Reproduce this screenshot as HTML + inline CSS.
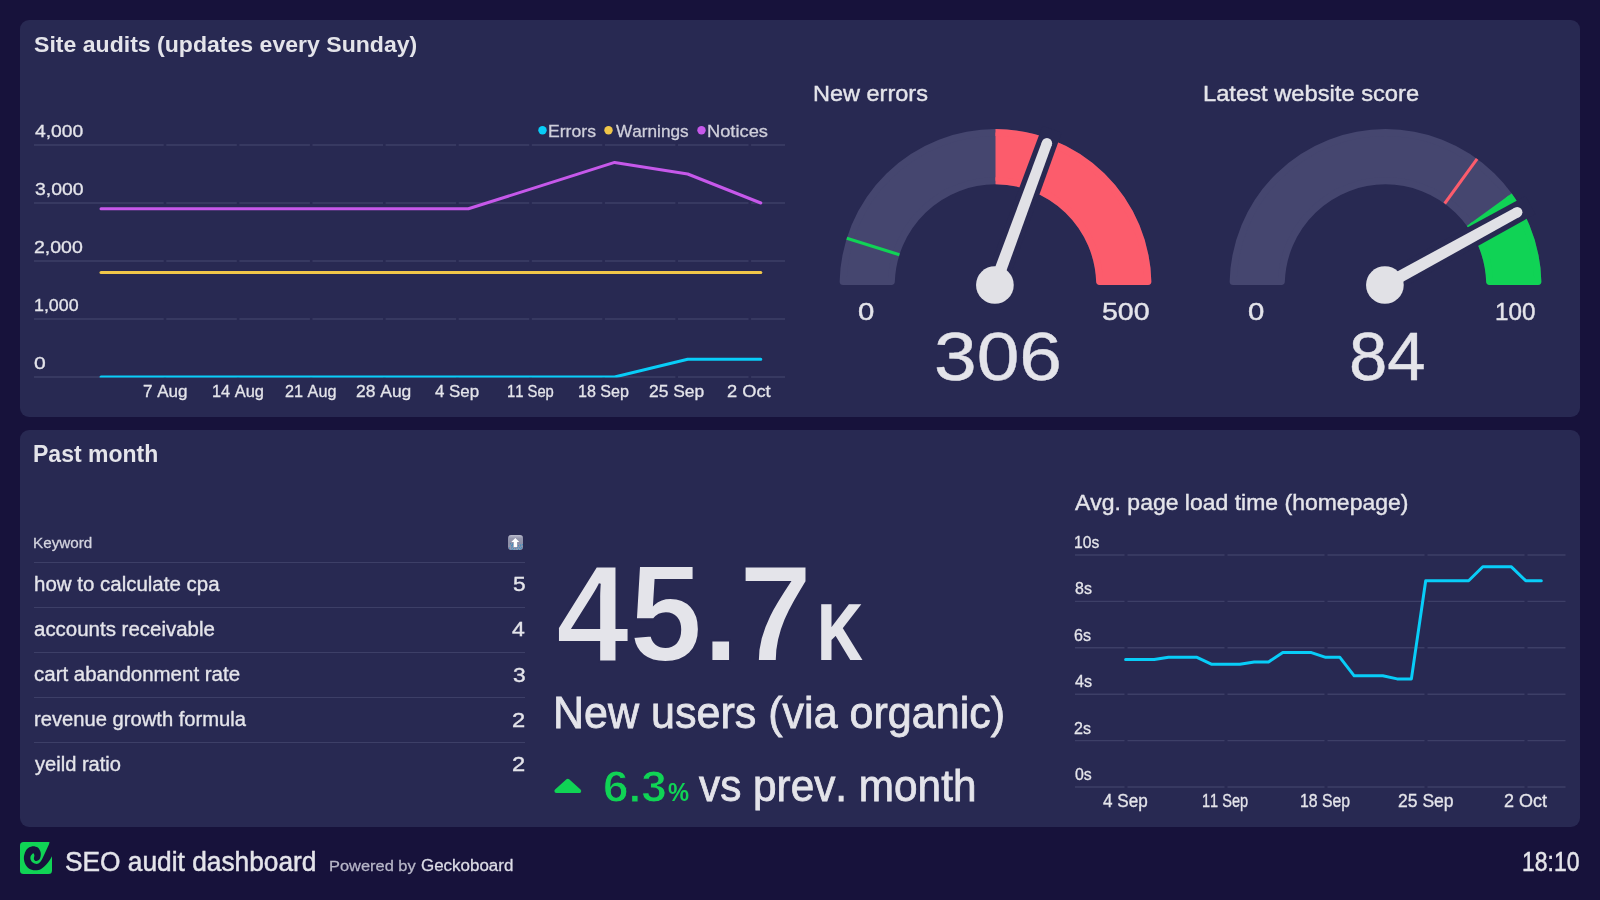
<!DOCTYPE html>
<html><head><meta charset="utf-8"><title>SEO audit dashboard</title>
<style>
html,body{margin:0;padding:0}
body{width:1600px;height:900px;background:#17123b;overflow:hidden;position:relative;font-family:"Liberation Sans",sans-serif}
.panel{position:absolute;left:20px;width:1560px;height:396px;border-radius:9px;background:#282952}
.t{position:absolute;white-space:nowrap;line-height:1;transform-origin:0 0;font-kerning:none}
.hr{position:absolute;left:34px;width:491px;height:1.4px;background:#3d3f67}
svg{position:absolute;left:0;top:0}
#txt{position:absolute;left:0;top:0;width:1600px;height:900px;will-change:transform}
.ico{position:absolute;left:508px;top:534.8px;width:15.2px;height:15.2px;border-radius:3.2px;background:linear-gradient(#bcbdce 0%,#9597ae 22%,#8d8fa8 55%,#9899b0 100%);overflow:hidden}
</style></head><body>
<div class="panel" style="top:20px;height:397px"></div>
<div class="panel" style="top:430px;height:396.5px"></div>
<svg width="1600" height="900" viewBox="0 0 1600 900">
<path d="M34.0 145H163.7M166.3 145H236.8M239.4 145H309.9M312.5 145H383.0M385.6 145H456.1M458.7 145H529.2M531.8 145H602.3M604.9 145H675.4M678.0 145H748.5M751.1 145H785.0M34.0 203H163.7M166.3 203H236.8M239.4 203H309.9M312.5 203H383.0M385.6 203H456.1M458.7 203H529.2M531.8 203H602.3M604.9 203H675.4M678.0 203H748.5M751.1 203H785.0M34.0 261H163.7M166.3 261H236.8M239.4 261H309.9M312.5 261H383.0M385.6 261H456.1M458.7 261H529.2M531.8 261H602.3M604.9 261H675.4M678.0 261H748.5M751.1 261H785.0M34.0 319H163.7M166.3 319H236.8M239.4 319H309.9M312.5 319H383.0M385.6 319H456.1M458.7 319H529.2M531.8 319H602.3M604.9 319H675.4M678.0 319H748.5M751.1 319H785.0M34.0 377H163.7M166.3 377H236.8M239.4 377H309.9M312.5 377H383.0M385.6 377H456.1M458.7 377H529.2M531.8 377H602.3M604.9 377H675.4M678.0 377H748.5M751.1 377H785.0" stroke="#3d3f67" stroke-width="1.4" fill="none"/>
<clipPath id="c1"><rect x="90" y="140" width="700" height="237.6"/></clipPath>
<polyline points="101.0,377.0 176.0,377.0 249.1,377.0 322.2,377.0 395.3,377.0 468.4,377.0 541.5,377.0 614.6,377.0 687.7,359.3 760.8,359.3" fill="none" stroke="#08cdf8" stroke-width="3" stroke-linejoin="round" stroke-linecap="round" clip-path="url(#c1)"/>
<polyline points="101.0,272.6 176.0,272.6 249.1,272.6 322.2,272.6 395.3,272.6 468.4,272.6 541.5,272.6 614.6,272.6 687.7,272.6 760.8,272.6" fill="none" stroke="#f0c649" stroke-width="3" stroke-linejoin="round" stroke-linecap="round" />
<polyline points="101.0,208.8 176.0,208.8 249.1,208.8 322.2,208.8 395.3,208.8 468.4,208.8 541.5,185.6 614.6,162.4 687.7,174.0 760.8,203.0" fill="none" stroke="#c658ea" stroke-width="3" stroke-linejoin="round" stroke-linecap="round" />
<circle cx="542.5" cy="130.3" r="4.2" fill="#08cdf8"/>
<circle cx="608.5" cy="130.3" r="4.2" fill="#f0c649"/>
<circle cx="701.5" cy="130.3" r="4.2" fill="#c658ea"/>
<path d="M843.14 281.5A152.4 152.4 0 0 1 1147.86 281.5L1099.64 281.5A104.2 104.2 0 0 0 891.36 281.5Z" fill="#45466f" stroke="#45466f" stroke-width="7.0" stroke-linejoin="round"/><clipPath id="z1"><path d="M995.5 285L995.5 -15.0L1207.6 72.9L1295.5 285.0V295H995.5Z"/></clipPath><path d="M843.14 281.5A152.4 152.4 0 0 1 1147.86 281.5L1099.64 281.5A104.2 104.2 0 0 0 891.36 281.5Z" fill="#fc5c6c" stroke="#fc5c6c" stroke-width="7.0" stroke-linejoin="round" clip-path="url(#z1)"/><line x1="899.4" y1="254.8" x2="846.8" y2="238.2" stroke="#10d355" stroke-width="3"/><path d="M1005.41 288.86L1061.69 132.69L1042.54 125.65L984.39 281.14Z" fill="#282952"/><path d="M1000.53 287.07L1051.82 145.04L1042.06 141.46L989.27 282.93Z" fill="#e1e1e6"/><circle cx="1046.94" cy="143.25" r="5.2" fill="#e1e1e6"/><circle cx="994.9" cy="285" r="18.85" fill="#e1e1e6"/>
<path d="M1233.14 281.5A152.4 152.4 0 0 1 1537.86 281.5L1489.64 281.5A104.2 104.2 0 0 0 1281.36 281.5Z" fill="#45466f" stroke="#45466f" stroke-width="7.0" stroke-linejoin="round"/><clipPath id="z2"><path d="M1385.5 285L1628.2 108.7L1670.8 192.3L1685.5 285.0V295H1385.5Z"/></clipPath><path d="M1233.14 281.5A152.4 152.4 0 0 1 1537.86 281.5L1489.64 281.5A104.2 104.2 0 0 0 1281.36 281.5Z" fill="#10d355" stroke="#10d355" stroke-width="7.0" stroke-linejoin="round" clip-path="url(#z2)"/><line x1="1444.7" y1="203.5" x2="1477.1" y2="158.9" stroke="#fc5c6c" stroke-width="3"/><path d="M1390.30 294.81L1535.28 213.97L1525.45 196.09L1379.50 275.19Z" fill="#282952"/><path d="M1387.79 290.26L1519.73 216.81L1514.72 207.70L1382.01 279.74Z" fill="#e1e1e6"/><circle cx="1517.22" cy="212.26" r="5.2" fill="#e1e1e6"/><circle cx="1384.9" cy="285" r="18.85" fill="#e1e1e6"/>
<path d="M1075.0 555H1124.5M1127.5 555H1224.5M1227.5 555H1324.5M1327.5 555H1424.5M1427.5 555H1524.5M1527.5 555H1565.5M1075.0 601.4H1124.5M1127.5 601.4H1224.5M1227.5 601.4H1324.5M1327.5 601.4H1424.5M1427.5 601.4H1524.5M1527.5 601.4H1565.5M1075.0 647.8H1124.5M1127.5 647.8H1224.5M1227.5 647.8H1324.5M1327.5 647.8H1424.5M1427.5 647.8H1524.5M1527.5 647.8H1565.5M1075.0 694.2H1124.5M1127.5 694.2H1224.5M1227.5 694.2H1324.5M1327.5 694.2H1424.5M1427.5 694.2H1524.5M1527.5 694.2H1565.5M1075.0 740.6H1124.5M1127.5 740.6H1224.5M1227.5 740.6H1324.5M1327.5 740.6H1424.5M1427.5 740.6H1524.5M1527.5 740.6H1565.5M1075.0 787H1124.5M1127.5 787H1224.5M1227.5 787H1324.5M1327.5 787H1424.5M1427.5 787H1524.5M1527.5 787H1565.5" stroke="#3d3f67" stroke-width="1.4" fill="none"/>
<polyline points="1125.6,659.6 1139.9,659.6 1154.2,659.6 1168.5,657.3 1182.8,657.3 1197.0,657.3 1211.3,664.2 1225.6,664.2 1239.9,664.2 1254.2,661.9 1268.5,661.9 1282.8,652.6 1297.1,652.6 1311.4,652.6 1325.7,657.3 1339.9,657.3 1354.2,675.8 1368.5,675.8 1382.8,675.8 1397.1,678.9 1411.4,678.9 1425.7,580.7 1440.0,580.7 1454.3,580.7 1468.6,580.7 1482.8,566.8 1497.1,566.8 1511.4,566.8 1525.7,580.7 1541.3,580.7" fill="none" stroke="#08cdf8" stroke-width="3" stroke-linejoin="round" stroke-linecap="round" />
<path d="M567.8 780.8L579.2 791.1H556.4Z" fill="#10d355" stroke="#10d355" stroke-width="4" stroke-linejoin="round"/>
<g transform="translate(20,842)"><rect width="32" height="32" rx="3.5" fill="#10d355"/><path d="M32 14.2C31.30 15.30 29.62 18.68 27.8 20.8C25.98 22.92 23.23 25.65 21.1 26.9C18.97 28.15 17.03 28.38 15 28.3C12.97 28.22 10.57 27.55 8.9 26.4C7.23 25.25 5.83 23.25 5 21.4C4.17 19.55 3.80 17.33 3.9 15.3C4.00 13.27 4.77 10.82 5.6 9.2C6.43 7.58 7.62 6.43 8.9 5.6C10.18 4.77 11.82 4.20 13.3 4.2C14.78 4.20 16.63 4.77 17.8 5.6C18.97 6.43 19.80 8.05 20.3 9.2C20.80 10.35 20.85 11.30 20.8 12.5C20.75 13.70 20.50 15.38 20 16.4C19.50 17.42 18.53 18.18 17.8 18.6C17.07 19.02 16.25 19.18 15.6 18.9C14.95 18.62 14.10 17.78 13.9 16.9C13.70 16.02 14.40 14.47 14.4 13.6C14.40 12.73 13.98 12.02 13.9 11.7C13.72 11.65 13.35 10.98 12.8 11.4C12.25 11.82 10.97 13.18 10.6 14.2C10.23 15.22 10.23 16.43 10.6 17.5C10.97 18.57 11.78 19.87 12.8 20.6C13.82 21.33 15.50 21.95 16.7 21.9C17.90 21.85 18.98 21.32 20 20.3C21.02 19.28 22.33 16.55 22.8 15.8L28.9 2.5L29.9 -1H33V14.2Z" fill="#17123b"/></g>
</svg>
<div class="hr" style="top:561.6px"></div><div class="hr" style="top:606.6px"></div><div class="hr" style="top:651.6px"></div><div class="hr" style="top:696.6px"></div><div class="hr" style="top:741.6px"></div>
<div class="ico"><svg width="15" height="15" viewBox="0 0 15 15"><rect x="2.00" y="8.25" width="1" height="1" rx="0.3" fill="#1b8ec6"/><rect x="4.00" y="8.60" width="1" height="1" rx="0.3" fill="#1b8ec6"/><rect x="4.00" y="9.40" width="1" height="1" rx="0.3" fill="#1b8ec6"/><rect x="3.10" y="10.30" width="1" height="1" rx="0.3" fill="#1b8ec6"/><rect x="4.00" y="11.40" width="1" height="1" rx="0.3" fill="#1b8ec6"/><rect x="1.10" y="12.40" width="1" height="1" rx="0.3" fill="#1b8ec6"/><rect x="3.10" y="12.40" width="1" height="1" rx="0.3" fill="#1b8ec6"/><rect x="5.10" y="13.30" width="1" height="1" rx="0.3" fill="#1b8ec6"/><rect x="7.20" y="13.30" width="1" height="1" rx="0.3" fill="#1b8ec6"/><rect x="3.60" y="14.10" width="1" height="1" rx="0.3" fill="#1b8ec6"/><rect x="10.10" y="10.30" width="1" height="1" rx="0.3" fill="#1b8ec6"/><rect x="12.20" y="9.50" width="1" height="1" rx="0.3" fill="#1b8ec6"/><rect x="12.20" y="10.40" width="1" height="1" rx="0.3" fill="#1b8ec6"/><rect x="14.00" y="9.30" width="1" height="1" rx="0.3" fill="#1b8ec6"/><rect x="9.20" y="12.30" width="1" height="1" rx="0.3" fill="#1b8ec6"/><rect x="11.10" y="12.30" width="1" height="1" rx="0.3" fill="#1b8ec6"/><rect x="13.10" y="12.30" width="1" height="1" rx="0.3" fill="#1b8ec6"/><rect x="12.20" y="13.30" width="1" height="1" rx="0.3" fill="#1b8ec6"/><rect x="10.10" y="14.10" width="1" height="1" rx="0.3" fill="#1b8ec6"/><path d="M7.35 2.9L11.3 7.1H9.1V12.1H5.75V7.1H3.3Z" fill="#fff"/></svg></div>
<div id="txt">
<div class="t" style="left:33.64px;top:33.00px;font-size:22.82px;font-weight:700;color:#e4e4ea;transform:scaleX(1.0112);">Site audits (updates every Sunday)</div>
<div class="t" style="left:34.86px;top:124.00px;font-size:16.72px;font-weight:400;color:#e4e4ea;transform:scaleX(1.1546);-webkit-text-stroke:0.018em">4,000</div>
<div class="t" style="left:34.56px;top:182.00px;font-size:16.72px;font-weight:400;color:#e4e4ea;transform:scaleX(1.1618);-webkit-text-stroke:0.018em">3,000</div>
<div class="t" style="left:34.32px;top:240.00px;font-size:16.72px;font-weight:400;color:#e4e4ea;transform:scaleX(1.1677);-webkit-text-stroke:0.018em">2,000</div>
<div class="t" style="left:33.94px;top:298.00px;font-size:16.72px;font-weight:400;color:#e4e4ea;transform:scaleX(1.0676);-webkit-text-stroke:0.018em">1,000</div>
<div class="t" style="left:34.47px;top:356.00px;font-size:16.72px;font-weight:400;color:#e4e4ea;transform:scaleX(1.2640);-webkit-text-stroke:0.018em">0</div>
<div class="t" style="left:142.68px;top:383.00px;font-size:17.15px;font-weight:400;color:#e4e4ea;transform:scaleX(0.9945);-webkit-text-stroke:0.018em">7 Aug</div>
<div class="t" style="left:211.55px;top:383.00px;font-size:17.15px;font-weight:400;color:#e4e4ea;transform:scaleX(0.9548);-webkit-text-stroke:0.018em">14 Aug</div>
<div class="t" style="left:285.23px;top:383.00px;font-size:17.15px;font-weight:400;color:#e4e4ea;transform:scaleX(0.9467);-webkit-text-stroke:0.018em">21 Aug</div>
<div class="t" style="left:356.42px;top:383.00px;font-size:17.15px;font-weight:400;color:#e4e4ea;transform:scaleX(1.0183);-webkit-text-stroke:0.018em">28 Aug</div>
<div class="t" style="left:435.41px;top:383.00px;font-size:17.15px;font-weight:400;color:#e4e4ea;transform:scaleX(0.9861);-webkit-text-stroke:0.018em">4 Sep</div>
<div class="t" style="left:506.67px;top:383.00px;font-size:17.15px;font-weight:400;color:#e4e4ea;transform:scaleX(0.8618);-webkit-text-stroke:0.018em">11 Sep</div>
<div class="t" style="left:577.57px;top:383.00px;font-size:17.15px;font-weight:400;color:#e4e4ea;transform:scaleX(0.9382);-webkit-text-stroke:0.018em">18 Sep</div>
<div class="t" style="left:648.92px;top:383.00px;font-size:17.15px;font-weight:400;color:#e4e4ea;transform:scaleX(1.0156);-webkit-text-stroke:0.018em">25 Sep</div>
<div class="t" style="left:727.38px;top:383.00px;font-size:17.15px;font-weight:400;color:#e4e4ea;transform:scaleX(1.0651);-webkit-text-stroke:0.018em">2 Oct</div>
<div class="t" style="left:548.25px;top:123.00px;font-size:17.01px;font-weight:400;color:#cfcfda;transform:scaleX(1.0365);-webkit-text-stroke:0.018em">Errors</div>
<div class="t" style="left:616.22px;top:123.00px;font-size:17.01px;font-weight:400;color:#cfcfda;transform:scaleX(1.0121);-webkit-text-stroke:0.018em">Warnings</div>
<div class="t" style="left:706.80px;top:123.00px;font-size:17.01px;font-weight:400;color:#cfcfda;transform:scaleX(1.0750);-webkit-text-stroke:0.018em">Notices</div>
<div class="t" style="left:813.37px;top:82.00px;font-size:22.97px;font-weight:400;color:#e4e4ea;transform:scaleX(1.0230);-webkit-text-stroke:0.018em">New errors</div>
<div class="t" style="left:1203.36px;top:82.00px;font-size:22.97px;font-weight:400;color:#e4e4ea;transform:scaleX(1.0323);-webkit-text-stroke:0.018em">Latest website score</div>
<div class="t" style="left:857.86px;top:301.00px;font-size:23.55px;font-weight:400;color:#e4e4ea;transform:scaleX(1.2438);-webkit-text-stroke:0.018em">0</div>
<div class="t" style="left:1102.16px;top:301.00px;font-size:23.55px;font-weight:400;color:#e4e4ea;transform:scaleX(1.2105);-webkit-text-stroke:0.018em">500</div>
<div class="t" style="left:934.28px;top:322.00px;font-size:68.19px;font-weight:400;color:#e4e4ea;transform:scaleX(1.1249);-webkit-text-stroke:0.006em">306</div>
<div class="t" style="left:1247.86px;top:301.00px;font-size:23.55px;font-weight:400;color:#e4e4ea;transform:scaleX(1.2438);-webkit-text-stroke:0.018em">0</div>
<div class="t" style="left:1495.46px;top:301.00px;font-size:23.55px;font-weight:400;color:#e4e4ea;transform:scaleX(1.0281);-webkit-text-stroke:0.018em">100</div>
<div class="t" style="left:1349.31px;top:322.00px;font-size:68.19px;font-weight:400;color:#e4e4ea;transform:scaleX(1.0100);-webkit-text-stroke:0.006em">84</div>
<div class="t" style="left:33.01px;top:443.00px;font-size:23.33px;font-weight:700;color:#e4e4ea;transform:scaleX(0.9866);">Past month</div>
<div class="t" style="left:33.30px;top:535.00px;font-size:15.33px;font-weight:400;color:#d4d4df;transform:scaleX(0.9945);-webkit-text-stroke:0.018em">Keyword</div>
<div class="t" style="left:33.88px;top:575.00px;font-size:19.74px;font-weight:400;color:#e4e4ea;transform:scaleX(1.0375);-webkit-text-stroke:0.018em">how to calculate cpa</div>
<div class="t" style="left:512.69px;top:574.00px;font-size:20.72px;font-weight:400;color:#e4e4ea;transform:scaleX(1.0994);-webkit-text-stroke:0.018em">5</div>
<div class="t" style="left:34.33px;top:620.00px;font-size:19.74px;font-weight:400;color:#e4e4ea;transform:scaleX(1.0370);-webkit-text-stroke:0.018em">accounts receivable</div>
<div class="t" style="left:512.27px;top:619.00px;font-size:20.72px;font-weight:400;color:#e4e4ea;transform:scaleX(1.1110);-webkit-text-stroke:0.018em">4</div>
<div class="t" style="left:34.33px;top:665.00px;font-size:19.74px;font-weight:400;color:#e4e4ea;transform:scaleX(1.0378);-webkit-text-stroke:0.018em">cart abandonment rate</div>
<div class="t" style="left:512.73px;top:665.00px;font-size:20.72px;font-weight:400;color:#e4e4ea;transform:scaleX(1.0994);-webkit-text-stroke:0.018em">3</div>
<div class="t" style="left:33.86px;top:710.00px;font-size:19.74px;font-weight:400;color:#e4e4ea;transform:scaleX(1.0227);-webkit-text-stroke:0.018em">revenue growth formula</div>
<div class="t" style="left:512.41px;top:710.00px;font-size:20.72px;font-weight:400;color:#e4e4ea;transform:scaleX(1.1442);-webkit-text-stroke:0.018em">2</div>
<div class="t" style="left:35.15px;top:755.00px;font-size:19.74px;font-weight:400;color:#e4e4ea;transform:scaleX(1.0181);-webkit-text-stroke:0.018em">yeild ratio</div>
<div class="t" style="left:512.41px;top:754.00px;font-size:20.72px;font-weight:400;color:#e4e4ea;transform:scaleX(1.1442);-webkit-text-stroke:0.018em">2</div>
<div class="t" style="left:555.71px;top:546.00px;font-size:136.92px;font-weight:700;color:#e4e4ea;transform:scaleX(0.9617);-webkit-text-stroke:2px #282952">45.7</div>
<div class="t" style="left:817.68px;top:594.00px;font-size:77.76px;font-weight:700;color:#e4e4ea;transform:scaleX(0.7724);-webkit-text-stroke:2px #e4e4ea">K</div>
<div class="t" style="left:553.27px;top:691.00px;font-size:43.75px;font-weight:400;color:#e4e4ea;transform:scaleX(0.9838);-webkit-text-stroke:0.018em">New users (via organic)</div>
<div class="t" style="left:603.12px;top:764.00px;font-size:45.20px;font-weight:700;color:#10d355;transform:scaleX(1.0178);-webkit-text-stroke:1px #282952">6.3</div>
<div class="t" style="left:668.46px;top:780.00px;font-size:25.14px;font-weight:700;color:#10d355;transform:scaleX(0.9424);">%</div>
<div class="t" style="left:699.16px;top:764.00px;font-size:43.89px;font-weight:400;color:#e4e4ea;transform:scaleX(0.9641);-webkit-text-stroke:0.018em">vs prev. month</div>
<div class="t" style="left:1075.06px;top:492.00px;font-size:22.24px;font-weight:400;color:#e4e4ea;transform:scaleX(1.0335);-webkit-text-stroke:0.018em">Avg. page load time (homepage)</div>
<div class="t" style="left:1074.11px;top:534.00px;font-size:17.15px;font-weight:400;color:#e4e4ea;transform:scaleX(0.9134);-webkit-text-stroke:0.018em">10s</div>
<div class="t" style="left:1074.61px;top:580.00px;font-size:17.15px;font-weight:400;color:#e4e4ea;transform:scaleX(0.9314);-webkit-text-stroke:0.018em">8s</div>
<div class="t" style="left:1074.48px;top:627.00px;font-size:17.15px;font-weight:400;color:#e4e4ea;transform:scaleX(0.9384);-webkit-text-stroke:0.018em">6s</div>
<div class="t" style="left:1074.93px;top:673.00px;font-size:17.15px;font-weight:400;color:#e4e4ea;transform:scaleX(0.9415);-webkit-text-stroke:0.018em">4s</div>
<div class="t" style="left:1074.49px;top:720.00px;font-size:17.15px;font-weight:400;color:#e4e4ea;transform:scaleX(0.9380);-webkit-text-stroke:0.018em">2s</div>
<div class="t" style="left:1074.68px;top:766.00px;font-size:17.15px;font-weight:400;color:#e4e4ea;transform:scaleX(0.9272);-webkit-text-stroke:0.018em">0s</div>
<div class="t" style="left:1103.41px;top:793.00px;font-size:17.59px;font-weight:400;color:#e4e4ea;transform:scaleX(0.9728);-webkit-text-stroke:0.018em">4 Sep</div>
<div class="t" style="left:1202.19px;top:793.00px;font-size:17.59px;font-weight:400;color:#e4e4ea;transform:scaleX(0.8274);-webkit-text-stroke:0.018em">11 Sep</div>
<div class="t" style="left:1300.09px;top:793.00px;font-size:17.59px;font-weight:400;color:#e4e4ea;transform:scaleX(0.9001);-webkit-text-stroke:0.018em">18 Sep</div>
<div class="t" style="left:1397.72px;top:793.00px;font-size:17.59px;font-weight:400;color:#e4e4ea;transform:scaleX(0.9978);-webkit-text-stroke:0.018em">25 Sep</div>
<div class="t" style="left:1503.79px;top:793.00px;font-size:17.59px;font-weight:400;color:#e4e4ea;transform:scaleX(1.0240);-webkit-text-stroke:0.018em">2 Oct</div>
<div class="t" style="left:64.71px;top:848.00px;font-size:27.18px;font-weight:400;color:#e4e4ea;transform:scaleX(0.9676);-webkit-text-stroke:0.018em">SEO audit dashboard</div>
<div class="t" style="left:328.55px;top:858.00px;font-size:15.04px;font-weight:400;color:#b7b6c8;transform:scaleX(1.0924);-webkit-text-stroke:0.018em">Powered by</div>
<div class="t" style="left:420.55px;top:858.00px;font-size:15.84px;font-weight:400;color:#dcdce6;transform:scaleX(1.0711);-webkit-text-stroke:0.018em">Geckoboard</div>
<div class="t" style="left:1522.35px;top:848.00px;font-size:27.33px;font-weight:400;color:#e4e4ea;transform:scaleX(0.8401);-webkit-text-stroke:0.018em">18:10</div>
</div>
</body></html>
